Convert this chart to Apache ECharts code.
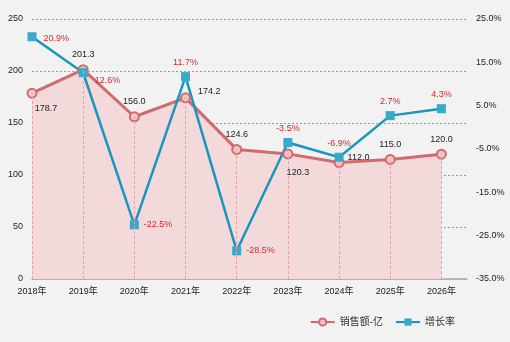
<!DOCTYPE html>
<html><head><meta charset="utf-8">
<script src="https://cdn.jsdelivr.net/npm/echarts@6/dist/echarts.min.js"></script>
<style>html,body{margin:0;padding:0;background:#f2f2f2}#c{width:510px;height:342px}</style>
</head><body><div id="c"></div>
<script>
var categories = ['2018年','2019年','2020年','2021年','2022年','2023年','2024年','2025年','2026年'];
var sales = [178.7, 201.3, 156.0, 174.2, 124.6, 120.3, 112.0, 115.0, 120.0];
var growth = [20.9, 12.6, -22.5, 11.7, -28.5, -3.5, -6.9, 2.7, 4.3];
var salesLabelPos = ['bottom','top','top','right','top','bottom','right','top','top'];
var growthLabelPos = ['right','right','right','top','right','top','top','top','top'];
var leftTicks = [0, 50, 100, 150, 200, 250];
var rightTicks = [-35, -25, -15, -5, 5, 15, 25];

var FONT = '"Liberation Sans","Noto Sans CJK SC",sans-serif';
var chart = echarts.init(document.getElementById('c'));
var salesData = sales.map(function(v,i){
  var p = salesLabelPos[i];
  var lab = {position: p};
  if (i===0) { lab = {position:'bottom', offset:[14,0]}; }
  if (i===5) { lab = {position:'bottom', offset:[10,4]}; }
  if (i===3) { lab = {position:'right', offset:[2,-6]}; }
  if (i===6) { lab = {position:'right', offset:[-2,-5]}; }
  return {value:[i,v], label: lab};
});
var growthData = growth.map(function(v,i){
  var lab = {position: growthLabelPos[i]};
  if (i===1) lab = {position:'right', offset:[2,8]};
  if (i===0) lab = {position:'right', offset:[2,2]};
  return {value:[i,v], label: lab};
});
var drop = sales.map(function(v,i){ return [{coord:[i,0]},{coord:[i,v]}]; });

chart.setOption({
  backgroundColor:'#f2f2f2',
  animation:false,
  grid:{left:32, right:43, top:19, bottom:63},
  legend:{
    data:['销售额-亿','增长率'],
    right:50, bottom:10, itemWidth:24, itemHeight:9, itemGap:12,
    textStyle:{fontFamily:FONT, fontSize:10, color:'#333'}
  },
  xAxis:{
    type:'value', min:0, max:8.5, interval:1,
    axisLine:{show:true, lineStyle:{color:'#aaa', width:1.5}},
    axisTick:{show:false}, splitLine:{show:false},
    axisLabel:{fontFamily:FONT, fontSize:9, color:'#222', margin:8,
      showMaxLabel:false,
      formatter:function(v){ return categories[v] || ''; }}
  },
  yAxis:[{
    type:'value', min:0, max:250, interval:50,
    axisLine:{show:false}, axisTick:{show:false},
    axisLabel:{fontFamily:FONT, fontSize:9, color:'#222', margin:9},
    splitLine:{show:true, lineStyle:{color:'#999', type:[2,2], width:1}}
  },{
    type:'value', min:-35, max:25, interval:10,
    axisLine:{show:false}, axisTick:{show:false},
    axisLabel:{fontFamily:FONT, fontSize:9, color:'#222', margin:9,
      formatter:function(v){ return v.toFixed(1)+'%'; }},
    splitLine:{show:false}
  }],
  series:[{
    name:'销售额-亿', type:'line', yAxisIndex:0, data:salesData,
    symbol:'circle', symbolSize:9,
    lineStyle:{color:'#d16b6e', width:3},
    itemStyle:{color:'#f0c4c4', borderColor:'#d16b6e', borderWidth:2},
    areaStyle:{color:'#f3d9da', opacity:1},
    label:{show:true, fontFamily:FONT, fontSize:9, color:'#222',
      formatter:function(p){ return p.value[1].toFixed(1); }},
    markLine:{silent:true, symbol:['none','none'], label:{show:false},
      lineStyle:{color:'#e3a5a7', type:[3,2], width:1}, data:drop}
  },{
    name:'增长率', type:'line', yAxisIndex:1, data:growthData,
    symbol:'rect', symbolSize:9,
    lineStyle:{color:'#1b95bd', width:2.5},
    itemStyle:{color:'#37a9cb'},
    label:{show:true, fontFamily:FONT, fontSize:9, color:'#d9272e',
      formatter:function(p){ return p.value[1].toFixed(1)+'%'; }}
  }]
});
</script></body></html>
